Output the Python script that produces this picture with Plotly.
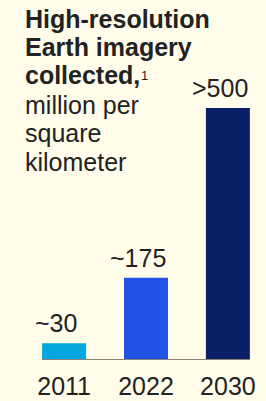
import plotly.graph_objects as go

# Data
years = ["2011", "2022", "2030"]
values = [34, 175, 540]
value_labels = ["~30", "~175", ">500"]
bar_colors = ["#00A8DF", "#2352E6", "#0B1F66"]

title_bold = ["High-resolution", "Earth imagery", "collected,"]
title_sup = ["", "", "1"]
title_regular = ["million per", "square", "kilometer"]

W, H = 266, 401
ML, MR, MT, MB = 42, 16, 80, 42
PW, PH = W - ML - MR, H - MT - MB
FONT = "Liberation Sans, Arial, sans-serif"
TXT = "#222222"
BG = "#FFFDEA"

fig = go.Figure()
fig.add_trace(go.Bar(
    x=years, y=values,
    marker=dict(color=bar_colors, line=dict(width=0)),
    width=0.537,
    hoverinfo="skip",
))

annotations = []
# value labels
for i, (v, lab) in enumerate(zip(values, value_labels)):
    annotations.append(dict(
        x=i, y=v, xref="x", yref="y", text=lab, showarrow=False,
        xanchor="center", yanchor="bottom", xshift=-8, yshift=4,
        font=dict(family=FONT, size=25, color=TXT),
    ))

# title lines (baselines in pixels)
baselines = [27, 55, 83, 113, 141, 170]
lines = ["<b>%s</b>" % t for t in title_bold] + title_regular
for txt, bl in zip(lines, baselines):
    mid = bl - 8
    annotations.append(dict(
        x=(23 - ML) / PW, y=(H - MB - mid) / PH, xref="paper", yref="paper",
        text=txt, showarrow=False, xanchor="left", yanchor="middle",
        font=dict(family=FONT, size=25, color=TXT),
    ))
# footnote marker
for s, bl in zip(title_sup, baselines):
    if s:
        annotations.append(dict(
            x=(139 - ML) / PW, y=(H - MB - (bl - 17)) / PH, xref="paper", yref="paper",
            text=s, showarrow=False, xanchor="left", yanchor="top",
            font=dict(family=FONT, size=13, color=TXT),
        ))

fig.update_layout(
    width=W, height=H,
    margin=dict(l=ML, r=MR, t=MT, b=MB, pad=0, autoexpand=False),
    paper_bgcolor=BG, plot_bgcolor=BG,
    showlegend=False,
    annotations=annotations,
    xaxis=dict(
        type="category", range=[-0.27, 2.27], automargin=False,
        showline=True, linecolor="#8C8377", linewidth=1,
        showgrid=False, zeroline=False, ticks="",
        tickfont=dict(family=FONT, size=25, color=TXT),
        ticklabelstandoff=5,
        fixedrange=True,
    ),
    yaxis=dict(
        range=[0, 600], visible=False, showgrid=False, zeroline=False,
        automargin=False, fixedrange=True,
    ),
)

fig.write_html(
    "out.html",
    config={"displayModeBar": False},
    post_script="document.body.style.margin='0';document.body.style.background='%s';" % BG,
)
